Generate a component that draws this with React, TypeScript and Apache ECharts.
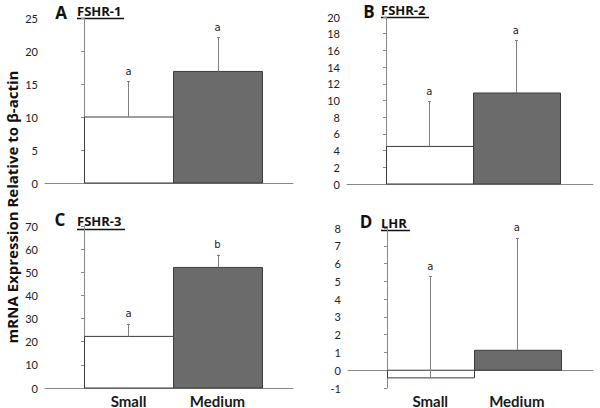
import React, { useEffect, useRef } from "react";
import * as echarts from "echarts";

const categories = ["Small", "Medium"];
const panelLetters = ["A", "B", "C", "D"];
const panelNames = ["FSHR-1", "FSHR-2", "FSHR-3", "LHR"];
const meansA = [10.0, 16.9];
const errTopA = [15.4, 22.1];
const sigA = ["a", "a"];
const meansB = [4.5, 10.9];
const errTopB = [9.9, 17.2];
const sigB = ["a", "a"];
const meansC = [22.3, 52.1];
const errTopC = [27.8, 57.6];
const sigC = ["a", "b"];
const meansD = [-0.43, 1.12];
const errTopD = [5.3, 7.45];
const sigD = ["a", "a"];
const yTicksA = { min: 0, max: 25, interval: 5 };
const yTicksB = { min: 0, max: 20, interval: 2 };
const yTicksC = { min: 0, max: 70, interval: 10 };
const yTicksD = { min: -1, max: 8, interval: 1 };
const yTitle = "mRNA Expression Relative to β-actin";

const FONT = "Lato, 'Open Sans', sans-serif";
const TFONT = "'Open Sans', Lato, sans-serif";
const fills = ["#ffffff", "#6b6b6b"];

export default function App() {
  const ref = useRef<HTMLDivElement>(null);
  useEffect(() => {
    if (!ref.current) return;
    const chart = echarts.init(ref.current, null, { renderer: "svg" });
    const panels = [
      { means: meansA, err: errTopA, sig: sigA, y: yTicksA, grid: { left: 45, top: 18, width: 248, height: 165 }, xr: [-0.438, 2.348], labels: false },
      { means: meansB, err: errTopB, sig: sigB, y: yTicksB, grid: { left: 347, top: 17, width: 246, height: 167 }, xr: [-0.45, 2.39], labels: false },
      { means: meansC, err: errTopC, sig: sigC, y: yTicksC, grid: { left: 45, top: 226, width: 248, height: 166 }, xr: [-0.438, 2.348], labels: true },
      { means: meansD, err: errTopD, sig: sigD, y: yTicksD, grid: { left: 348, top: 228, width: 245, height: 164 }, xr: [-0.45, 2.38], labels: true },
    ];
    const grids: any[] = [];
    const xAxes: any[] = [];
    const yAxes: any[] = [];
    const series: any[] = [];
    panels.forEach((p, k) => {
      grids.push({ ...p.grid, containLabel: false });
      const mainX = xAxes.length;
      xAxes.push({
        type: "value", gridIndex: k, min: p.xr[0], max: p.xr[1],
        axisLine: { show: true, onZero: true, lineStyle: { color: "#8a8a8a", width: 1 } },
        axisTick: { show: false }, axisLabel: { show: false }, splitLine: { show: false },
      });
      if (p.labels) {
        xAxes.push({
          type: "value", gridIndex: k, min: p.xr[0], max: p.xr[1], position: "bottom",
          axisLine: { show: false, onZero: false }, axisTick: { show: false }, splitLine: { show: false },
          axisLabel: {
            show: true, customValues: [0.5, 1.5], margin: 5,
            formatter: (v: number) => (v < 1 ? categories[0] : categories[1]),
            fontFamily: FONT, fontWeight: "bold", fontSize: 15, color: "#1a1a1a",
          },
        });
      }
      yAxes.push({
        type: "value", gridIndex: k, min: p.y.min, max: p.y.max, interval: p.y.interval,
        axisLine: { show: true, lineStyle: { color: "#8a8a8a", width: 1 } },
        axisTick: { show: true, inside: false, length: 3, lineStyle: { color: "#8a8a8a" } },
        axisLabel: { fontFamily: FONT, fontSize: 11, color: "#222", margin: 7 },
        splitLine: { show: false },
      });
      const data = p.means.map((m, i) => [i, m, p.err[i]]);
      const sig = p.sig;
      series.push({
        type: "custom", xAxisIndex: mainX, yAxisIndex: k, data, clip: false,
        renderItem: (params: any, api: any) => {
          const i = api.value(0);
          const v = api.value(1);
          const e = api.value(2);
          const p0 = api.coord([i, 0]);
          const p1 = api.coord([i + 1, v]);
          const pc = api.coord([i + 0.5, v]);
          const pe = api.coord([i + 0.5, e]);
          return {
            type: "group",
            children: [
              {
                type: "rect",
                shape: { x: Math.round(p0[0]) + 0.5, y: Math.min(p0[1], p1[1]), width: Math.round(p1[0] - p0[0]), height: Math.abs(p1[1] - p0[1]) },
                style: { fill: fills[i], stroke: "#3c3c3c", lineWidth: 1 },
              },
              {
                type: "line",
                shape: { x1: Math.round(pc[0]) + 0.5, y1: pc[1], x2: Math.round(pe[0]) + 0.5, y2: pe[1] },
                style: { stroke: "#808080", lineWidth: 1 },
              },
              {
                type: "line",
                shape: { x1: Math.round(pe[0]) - 1, y1: Math.round(pe[1]) + 0.5, x2: Math.round(pe[0]) + 2, y2: Math.round(pe[1]) + 0.5 },
                style: { stroke: "#808080", lineWidth: 1 },
              },
              {
                type: "text",
                style: {
                  text: sig[params.dataIndex], x: pe[0], y: pe[1] - 10,
                  align: "center", verticalAlign: "middle",
                  font: "10px 'DejaVu Sans', sans-serif", fill: "#222",
                },
              },
            ],
          };
        },
      });
    });

    const titlePos = [
      { lx: 61, ly: 12, nx: 77, ny: 11, ul: 18, uw: 47 },
      { lx: 369, ly: 11, nx: 381, ny: 10, ul: 17, uw: 48 },
      { lx: 60, ly: 219, nx: 77, ny: 221, ul: 229, uw: 48 },
      { lx: 366, ly: 221, nx: 381, ny: 223, ul: 230, uw: 29 },
    ];
    const graphics: any[] = [];
    titlePos.forEach((t, k) => {
      graphics.push({
        type: "text", x: t.lx, y: t.ly,
        style: { text: panelLetters[k], align: "center", verticalAlign: "middle", font: `bold 17px ${TFONT}`, fill: "#111" },
      });
      graphics.push({
        type: "text", x: t.nx, y: t.ny,
        style: { text: panelNames[k], align: "left", verticalAlign: "middle", font: `bold 13px ${TFONT}`, fill: "#111" },
      });
      graphics.push({
        type: "line", shape: { x1: t.nx, y1: t.ul + 0.5, x2: t.nx + t.uw, y2: t.ul + 0.5 },
        style: { stroke: "#111", lineWidth: 1.5 },
      });
    });
    graphics.push({
      type: "text", x: 12, y: 207, rotation: Math.PI / 2,
      style: { text: yTitle, align: "center", verticalAlign: "middle", font: `bold 15px ${TFONT}`, fill: "#111" },
    });

    chart.setOption({
      animation: false,
      backgroundColor: "#ffffff",
      grid: grids,
      xAxis: xAxes,
      yAxis: yAxes,
      series,
      graphic: graphics,
    });
    return () => chart.dispose();
  }, []);
  return <div ref={ref} style={{ width: 600, height: 408, position: "absolute", left: 0, top: 0 }} />;
}
